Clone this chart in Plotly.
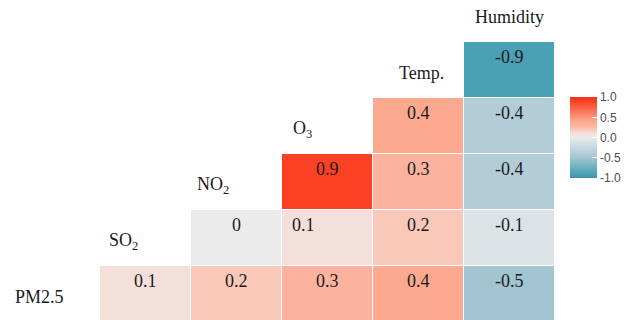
import plotly.graph_objects as go

# Variables in the correlation matrix (bottom row first)
row_vars = ["PM2.5", "SO<sub>2</sub>", "NO<sub>2</sub>", "O<sub>3</sub>", "Temp.", "Humidity"]
col_vars = ["SO2", "NO2", "O3", "Temp.", "Humidity"]

# Upper-triangle correlations, one list per row (row variable vs. columns SO2..Humidity)
corr_pm25 = [0.1, 0.2, 0.3, 0.4, -0.5]
corr_so2 = [None, 0.0, 0.1, 0.2, -0.1]
corr_no2 = [None, None, 0.9, 0.3, -0.4]
corr_o3 = [None, None, None, 0.4, -0.4]
corr_temp = [None, None, None, None, -0.9]

rows = [corr_pm25, corr_so2, corr_no2, corr_o3, corr_temp]

# Blue - grey - red diverging scale over [-1, 1]
colorscale = [
    [0.00, "#3F93AB"],
    [0.05, "#4AA0B4"],
    [0.25, "#A2C5D1"],
    [0.30, "#B2CDD7"],
    [0.45, "#DCE3E6"],
    [0.50, "#EBEBEB"],
    [0.55, "#F3E0DA"],
    [0.60, "#F9C8B9"],
    [0.65, "#FCB39E"],
    [0.70, "#FCA990"],
    [0.95, "#FA4123"],
    [1.00, "#F5301A"],
]

xs = list(range(len(col_vars)))
ys = list(range(len(rows)))

X_RANGE = [-0.5, 4.5]
Y_RANGE = [-0.464, 4.5]

SERIF = "Liberation Serif"
INK = "#1a1a1a"

fig = go.Figure(
    go.Heatmap(
        z=rows,
        x=xs,
        y=ys,
        zmin=-1,
        zmax=1,
        colorscale=colorscale,
        xgap=1,
        ygap=1,
        hoverongaps=False,
        colorbar=dict(
            x=1.033,
            xanchor="left",
            xpad=0,
            y=0.656,
            yanchor="middle",
            len=101,
            lenmode="pixels",
            ypad=10,
            thickness=27,
            outlinewidth=0,
            tickvals=[-1, -0.5, 0, 0.5, 1],
            ticktext=["-1.0", "-0.5", "0.0", "0.5", "1.0"],
            ticks="inside",
            ticklen=5,
            tickcolor="white",
            tickfont=dict(family="Liberation Sans", size=12, color="#4d4d4d"),
        ),
    )
)


def fmt(v):
    return "0" if v == 0 else f"{v:.1f}"


def to_paper(v, rng):
    return (v - rng[0]) / (rng[1] - rng[0])


annotations = []
# Value labels near the top of each cell
label_nudge = {(1, 2): -24}
for r, vals in enumerate(rows):
    for c, v in enumerate(vals):
        if v is None:
            continue
        annotations.append(
            dict(
                x=c, y=r, text=fmt(v), showarrow=False, yshift=13,
                xshift=label_nudge.get((r, c), 0),
                font=dict(family=SERIF, size=18, color=INK),
            )
        )

# Variable names along the stepped diagonal; paper coordinates let the
# outermost names sit beyond the axis ranges
name_x = [-1.16, -0.24, 0.74, 1.73, 3.03, 4.0]
for r, name in enumerate(row_vars):
    annotations.append(
        dict(
            x=to_paper(name_x[r], X_RANGE), y=to_paper(r - 0.06, Y_RANGE),
            xref="paper", yref="paper", text=name, showarrow=False,
            xanchor="center", yanchor="middle",
            font=dict(family=SERIF, size=18, color=INK),
        )
    )

fig.update_layout(
    width=637,
    height=320,
    margin=dict(l=100, r=82, t=42, b=0),
    paper_bgcolor="white",
    plot_bgcolor="white",
    xaxis=dict(range=X_RANGE, visible=False, fixedrange=True),
    yaxis=dict(range=Y_RANGE, visible=False, fixedrange=True),
    annotations=annotations,
    showlegend=False,
)

fig.write_html("out.html")
